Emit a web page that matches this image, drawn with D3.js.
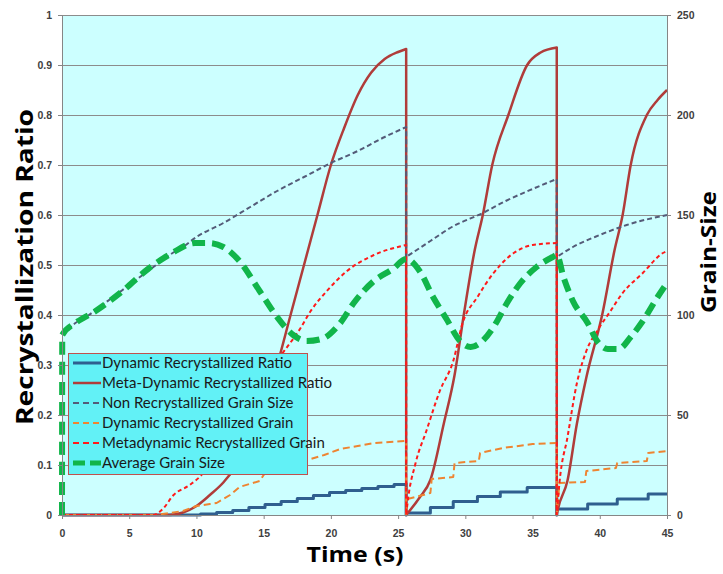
<!DOCTYPE html>
<html>
<head>
<meta charset="utf-8">
<script src="https://cdn.jsdelivr.net/npm/d3@7"></script>
<style>
  html, body { margin: 0; padding: 0; background: #fff; }
  svg { display: block; font-family: Lato, "Liberation Sans", sans-serif; }
  .grid line { stroke: #8c8c8c; stroke-width: 1; }
  .axis path, .axis line { stroke: #868686; }
  .axis text { fill: #404040; font-size: 10.5px; font-weight: bold; }
  .title { font-family: "Open Sans", Lato, sans-serif; font-weight: bold; fill: #000; }
  .legend text { font-size: 15px; fill: #1a1a1a; }
</style>
</head>
<body>
<svg id="chart" width="723" height="574"></svg>
<script>
// time (s) against recrystallization ratio (left) and grain size (right)

const xTicks = [0, 5, 10, 15, 20, 25, 30, 35, 40, 45];
const yLeftTicks = [0, 0.1, 0.2, 0.3, 0.4, 0.5, 0.6, 0.7, 0.8, 0.9, 1];
const yRightTicks = [0, 50, 100, 150, 200, 250];

// left axis: ratios, [t, ratio]
const dynRatio = [
  [0, 0], [9.3, 0], [10.3, 0.002], [11.5, 0.005], [12.7, 0.009], [13.9, 0.015], [15.1, 0.021],
  [16.3, 0.027], [17.5, 0.033], [18.7, 0.039], [19.9, 0.045], [21.1, 0.049], [22.3, 0.053],
  [23.5, 0.057], [24.7, 0.061], [25.6, 0.063], [25.6, 0], [25.6, 0.004],
  [27.4, 0.015], [29.1, 0.027], [30.9, 0.037], [32.6, 0.046], [34.6, 0.055], [36.8, 0.058],
  [36.8, 0], [36.8, 0.012], [39.1, 0.022], [41.3, 0.032], [43.6, 0.042], [45, 0.042]
];
const metaRatio = [
  [0, 0], [8, 0], [9, 0.005], [10, 0.018], [11, 0.04], [12, 0.065], [13, 0.1], [14, 0.15],
  [15, 0.22], [16, 0.3], [17, 0.4], [18, 0.5], [19, 0.6], [20, 0.7], [21, 0.775], [22, 0.84],
  [23, 0.885], [24, 0.912], [25, 0.926], [25.6, 0.932], [25.6, 0],
  [26.6, 0.035], [27.4, 0.07], [28.4, 0.183], [29.2, 0.28], [29.9, 0.403], [30.7, 0.53],
  [31.3, 0.6], [32, 0.7], [33.2, 0.8], [34.6, 0.9], [35.6, 0.925], [36.8, 0.935], [36.8, 0],
  [36.9, 0.013], [37.6, 0.069], [38.3, 0.183], [39, 0.275], [40.2, 0.403], [41.1, 0.53],
  [41.7, 0.6], [42.3, 0.7], [43.5, 0.8], [44.3, 0.83], [45, 0.85]
];

// right axis: grain sizes, [t, size]
const nonRecGrain = [
  [0, 90], [1, 96], [2, 100], [3, 105], [4, 110], [5, 115], [6, 120], [7, 125], [8, 130],
  [9, 134], [10, 139], [12, 146], [14, 154], [16, 162], [18, 169], [20, 176], [22, 182],
  [24, 189], [25.6, 194], [25.6, 129],
  [27.4, 137], [29, 144], [31.3, 151], [33, 157], [35, 163], [36.8, 168], [36.8, 129],
  [38, 134], [40, 140], [42, 145], [45, 150]
];
const dynGrain = [
  [0, 0], [6.9, 0], [8, 1], [9, 2], [10, 4.5], [11, 5.5], [11.5, 6], [12.5, 10], [13.2, 14],
  [14.7, 17], [15.2, 22], [16, 24], [17, 26], [18.5, 28], [19.5, 30], [20.7, 33], [22, 34.5],
  [23.2, 36], [25.6, 37], [25.6, 0],
  [25.7, 8], [27.4, 11], [27.5, 18], [29.1, 19], [29.2, 26], [31, 27], [31.1, 31],
  [32.8, 33.5], [35, 35.5], [36.8, 36], [36.8, 0],
  [37, 16], [38.9, 16.5], [39, 22], [41.2, 23.5], [41.3, 26], [43.5, 27], [43.6, 31], [45, 32]
];
const metaGrain = [
  [0, 0], [6.8, 0], [7.5, 3], [8.3, 10], [9.5, 15], [10.5, 21], [11.5, 32], [13, 47],
  [14.7, 64], [16.2, 79], [17.7, 93], [18.5, 102], [19.7, 112], [21.2, 122], [23.2, 130],
  [25.6, 135], [25.6, 0],
  [25.7, 6], [26.3, 26], [27.1, 42], [28.1, 62], [29.1, 77], [29.8, 96], [30.9, 109],
  [32.1, 121], [33.6, 131], [35, 135], [36.8, 136], [36.8, 0],
  [37, 16], [37.6, 39], [38.3, 66], [39, 82], [39.8, 92], [40.8, 102], [41.7, 111],
  [43.2, 121], [44.7, 131], [45, 132]
];
const avgGrain = [
  [0, 0], [0.02, 90], [1, 96], [2.5, 102], [4.5, 112], [6.4, 123], [8.2, 131], [9.9, 136],
  [10.9, 136], [12, 134], [13.2, 127], [14.7, 112], [16, 99], [17.2, 90], [18.2, 87],
  [19.3, 88], [20.7, 96], [21.7, 106], [23.2, 117], [24.6, 123], [25.6, 128], [26.6, 122],
  [27.6, 109], [28.6, 98], [29.6, 87], [30.4, 84], [31.1, 86], [32.1, 94], [33.1, 106],
  [34.1, 116], [35.3, 124], [36.5, 129], [36.8, 130], [37.3, 119], [38, 107], [39.1, 96],
  [39.8, 87], [40.6, 83], [41.4, 83], [42.3, 89], [43.2, 97], [44.3, 109], [45, 116]
];

const seriesNames = [
  "Dynamic Recrystallized Ratio",
  "Meta-Dynamic Recrystallized Ratio",
  "Non Recrystallized Grain Size",
  "Dynamic Recrystallized Grain",
  "Metadynamic Recrystallized Grain",
  "Average Grain Size"
];

const W = 723, H = 574;
const M = { top: 15, right: 56, bottom: 59, left: 62 };
const IW = W - M.left - M.right;   // 605
const IH = H - M.top - M.bottom;   // 500

const x = d3.scaleLinear().domain([0, 45]).range([0, IW]);
const yL = d3.scaleLinear().domain([0, 1]).range([IH, 0]);
const yR = d3.scaleLinear().domain([0, 250]).range([IH, 0]);

const svg = d3.select("#chart");
const g = svg.append("g").attr("transform", `translate(${M.left},${M.top})`);

g.append("rect").attr("width", IW).attr("height", IH).attr("fill", "#ccffff");

g.append("g").attr("class", "grid")
  .selectAll("line").data(yLeftTicks.slice(1)).join("line")
  .attr("x1", 0).attr("x2", IW)
  .attr("y1", (d) => yL(d) + 0.5).attr("y2", (d) => yL(d) + 0.5);

// series styles, in drawing order (secondary axis on top)
const series = [
  { name: seriesNames[0], data: dynRatio, y: yL, color: "#2f5f8f", width: 3, dash: null, curve: d3.curveStepAfter },
  { name: seriesNames[1], data: metaRatio, y: yL, color: "#b03c3a", width: 2.5, dash: null, curve: d3.curveMonotoneX },
  { name: seriesNames[2], data: nonRecGrain, y: yR, color: "#545b78", width: 2, dash: "5,3", curve: d3.curveMonotoneX },
  { name: seriesNames[3], data: dynGrain, y: yR, color: "#ee8431", width: 2, dash: "7,4", curve: d3.curveLinear },
  { name: seriesNames[4], data: metaGrain, y: yR, color: "#ff1a1a", width: 2, dash: "4,3", curve: d3.curveMonotoneX },
  { name: seriesNames[5], data: avgGrain, y: yR, color: "#11b54a", width: 6, dash: "13,7", curve: d3.curveMonotoneX }
];

// a vertical drop (two points at the same t) splits a series into cycles; each cycle is
// drawn with the series curve and the drops are joined straight
function pathFor(s) {
  const line = d3.line().x((d) => x(d[0])).y((d) => s.y(d[1])).curve(s.curve);
  if (s.curve === d3.curveStepAfter || s.curve === d3.curveLinear) return line(s.data);
  const runs = [[s.data[0]]];
  for (let i = 1; i < s.data.length; i++) {
    if (s.data[i][0] === s.data[i - 1][0]) runs.push([]);
    runs[runs.length - 1].push(s.data[i]);
  }
  return runs.map((r, i) => {
    const p = r.length > 1 ? line(r) : `M${x(r[0][0])},${s.y(r[0][1])}`;
    return i === 0 ? p : "L" + p.slice(1);
  }).join("");
}

const plot = g.append("g");
series.forEach((s) => {
  plot.append("path")
    .attr("d", pathFor(s))
    .attr("fill", "none")
    .attr("stroke", s.color)
    .attr("stroke-width", s.width)
    .attr("stroke-dasharray", s.dash)
    .attr("stroke-linejoin", "round");
});

// axes
g.append("g").attr("class", "axis").attr("transform", `translate(0,${IH})`)
  .call(d3.axisBottom(x).tickValues(xTicks).tickSize(4).tickSizeOuter(0).tickPadding(11));
const ayL = g.append("g").attr("class", "axis")
  .call(d3.axisLeft(yL).tickValues(yLeftTicks).tickFormat(d3.format("")).tickSize(4).tickSizeOuter(0).tickPadding(6));
const ayR = g.append("g").attr("class", "axis").attr("transform", `translate(${IW},0)`)
  .call(d3.axisRight(yR).tickValues(yRightTicks).tickSize(4).tickSizeOuter(0).tickPadding(6));
ayL.select(".domain").attr("stroke", "#a6a6a6");
ayR.select(".domain").attr("stroke", "#a6a6a6");

// axis titles
svg.append("text").attr("class", "title")
  .attr("transform", "translate(33,267) rotate(-90)")
  .attr("text-anchor", "middle").attr("font-size", 23)
  .attr("textLength", 316).attr("lengthAdjust", "spacingAndGlyphs")
  .text("Recrystallization Ratio");
svg.append("text").attr("class", "title")
  .attr("transform", "translate(716,252) rotate(-90)")
  .attr("text-anchor", "middle").attr("font-size", 22)
  .attr("textLength", 122).attr("lengthAdjust", "spacingAndGlyphs")
  .text("Grain-Size");
svg.append("text").attr("class", "title")
  .attr("x", 355).attr("y", 562)
  .attr("text-anchor", "middle").attr("font-size", 22)
  .attr("textLength", 97).attr("lengthAdjust", "spacingAndGlyphs")
  .text("Time (s)");

// legend
const lg = svg.append("g").attr("class", "legend");
lg.append("rect")
  .attr("x", 68.5).attr("y", 353.5).attr("width", 239).attr("height", 121)
  .attr("fill", "#62f1f6").attr("stroke", "#c0504d").attr("stroke-width", 1);
const rows = lg.selectAll("g.row").data(series).join("g")
  .attr("class", "row")
  .attr("transform", (d, i) => `translate(0,${363 + i * 20})`);
rows.append("line")
  .attr("x1", 73).attr("x2", 101).attr("y1", 0).attr("y2", 0)
  .attr("stroke", (d) => d.color)
  .attr("stroke-width", (d) => Math.min(d.width, 5))
  .attr("stroke-dasharray", (d) => d.dash ? (d.width > 4 ? "12,5" : "6,4") : null);
rows.append("text")
  .attr("x", 102).attr("y", 5)
  .text((d) => d.name);
</script>
</body>
</html>
